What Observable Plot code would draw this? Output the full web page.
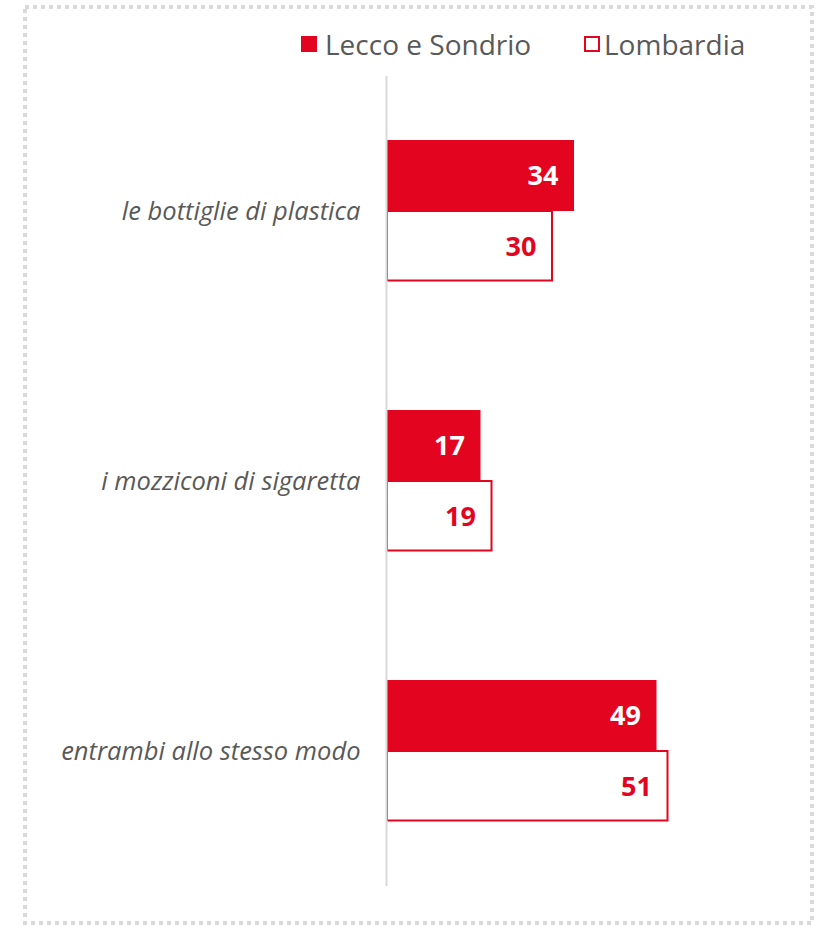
<!DOCTYPE html>
<html><head><meta charset="utf-8">
<script src="https://cdn.jsdelivr.net/npm/d3@7"></script>
<script src="https://cdn.jsdelivr.net/npm/@observablehq/plot@0.6"></script>
<style>
body{margin:0;background:#fff;}
#wrap{position:relative;width:817px;height:926px;font-family:"Open Sans",sans-serif;overflow:hidden}
#border{position:absolute;left:0;top:0;}
#chart{position:absolute;left:0;top:0}
.leg{position:absolute;top:25px;display:flex;align-items:center;font-size:28px;color:#595959;white-space:nowrap;line-height:38px}
.sw{width:16px;height:16px;box-sizing:border-box;display:inline-block;margin-right:8px}
</style></head><body>
<div id="wrap">
<svg id="border" width="817" height="926"><rect x="25" y="7" width="787" height="916" fill="none" stroke="#d9d9d9" stroke-width="4" stroke-dasharray="4 4"/></svg>
<div id="chart"></div>
<div class="leg" id="leg1" style="left:301px"></div>
<div class="leg" id="leg2" style="left:584px"></div>
</div>
<script>
const categories = ["le bottiglie di plastica", "i mozziconi di sigaretta", "entrambi allo stesso modo"];
const seriesNames = ["Lecco e Sondrio", "Lombardia"];
const leccoValues = [34, 17, 49];
const lombardiaValues = [30, 19, 51];

const red = "#e3051f";
const data = categories.flatMap((c, i) => [
  {category: c, series: seriesNames[0], value: leccoValues[i]},
  {category: c, series: seriesNames[1], value: lombardiaValues[i]}
]);
const lecco = data.filter(d => d.series === seriesNames[0]);
const lomb = data.filter(d => d.series === seriesNames[1]);

const chart = Plot.plot({
  width: 817, height: 926,
  marginTop: 75, marginBottom: 40, marginLeft: 387, marginRight: 45,
  x: {domain: [0, 70], axis: null},
  y: {domain: seriesNames, axis: null, paddingInner: 0, paddingOuter: 0.89},
  fy: {domain: categories, axis: null, padding: 0},
  style: {background: "transparent", fontFamily: "'Open Sans', sans-serif"},
  marks: [
    Plot.barX(lecco, {x: "value", y: "series", fy: "category", fill: red}),
    Plot.barX(lomb, {x: "value", y: "series", fy: "category", fill: "white", stroke: red, strokeWidth: 2, insetBottom: 1.5}),
    Plot.ruleX([0], {stroke: "#d9d9d9", strokeWidth: 2, dx: -1}),
    Plot.text(lecco, {x: "value", y: "series", fy: "category", text: d => String(d.value), dx: -16, textAnchor: "end", fill: "white", fontWeight: "bold", fontSize: 27}),
    Plot.text(lomb, {x: "value", y: "series", fy: "category", text: d => String(d.value), dx: -16, textAnchor: "end", fill: red, fontWeight: "bold", fontSize: 27}),
    Plot.text(categories, {fy: d => d, text: d => d, frameAnchor: "left", dx: -27, textAnchor: "end", fontStyle: "italic", fontSize: 25.5, fill: "#595959"})
  ]
});
document.getElementById("chart").appendChild(chart);

const leg1 = document.getElementById("leg1");
leg1.innerHTML = `<span class="sw" style="background:${red}"></span><span>${seriesNames[0]}</span>`;
const leg2 = document.getElementById("leg2");
leg2.innerHTML = `<span class="sw" style="border:2px solid ${red};margin-right:4px"></span><span>${seriesNames[1]}</span>`;
</script>
</body></html>
